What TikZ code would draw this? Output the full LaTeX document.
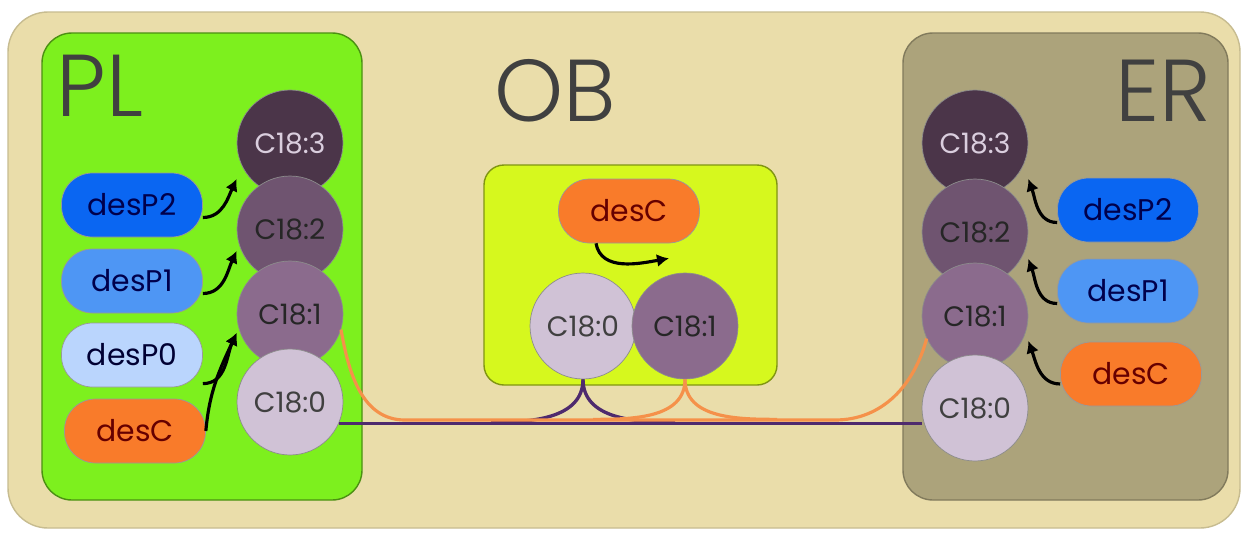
\documentclass[tikz,border=0pt]{standalone}
\usepackage{fontspec}
\setmainfont{Poppins}
\newfontfamily\titlefont{Poppins Light}
\usetikzlibrary{arrows.meta,calc}

\definecolor{bgbeige}{HTML}{EADDAA}
\definecolor{plgreen}{HTML}{7DF01E}
\definecolor{ergrey}{HTML}{ACA37B}
\definecolor{obyellow}{HTML}{D6F81E}
\definecolor{cthree}{HTML}{4B3549}
\definecolor{ctwo}{HTML}{6F5470}
\definecolor{cone}{HTML}{8B6B8D}
\definecolor{czero}{HTML}{D0C2D6}
\definecolor{ptwo}{HTML}{0A66F2}
\definecolor{pone}{HTML}{4E96F4}
\definecolor{pzero}{HTML}{BAD5FD}
\definecolor{pdesc}{HTML}{F97B2A}
\definecolor{lineorange}{HTML}{F5914A}
\definecolor{linepurple}{HTML}{4E2A6E}

\begin{document}
\begin{tikzpicture}[
  x=0.02cm, y=-0.02cm,
  cnode/.style={draw=black!45,circle,minimum size=2.12cm,inner sep=0pt,
    font=\fontsize{16}{16}\selectfont,line width=0.4pt},
  czero/.style={cnode,fill=czero,text=black!75},
  cone/.style={cnode,fill=cone,text=black!85},
  ctwo/.style={cnode,fill=ctwo,text=black!85},
  cthree/.style={cnode,fill=cthree,text=czero!80!white},
  pnode/.style={draw=black!40,rectangle,rounded corners=0.62cm,
    minimum width=2.82cm,minimum height=1.28cm,inner sep=0pt,
    font=\fontsize{17}{17}\selectfont,line width=0.4pt},
  ptwo/.style={pnode,fill=ptwo,text=blue!30!black},
  pone/.style={pnode,fill=pone,text=blue!30!black},
  pzero/.style={pnode,fill=pzero,text=blue!20!black},
  pdesc/.style={pnode,fill=pdesc,text=red!40!black},
  panel/.style={rounded corners=0.6cm,line width=0.8pt},
  title/.style={font=\titlefont\fontsize{50}{50}\selectfont,text=black!75},
  feed/.style={draw=black,line width=1.8pt,-{Latex[length=2.4mm,width=2.6mm]}},
  oline/.style={draw=lineorange,line width=1.8pt},
  uline/.style={draw=linepurple,line width=1.9pt}
]
  \useasboundingbox (0,0) rectangle (1248,535);

  % panels
  \path[fill=white] (0,0) rectangle (1248,535);
  \draw[panel,rounded corners=0.8cm,fill=bgbeige,draw=bgbeige!85!black] (8,12) rectangle (1240,528);
  \draw[panel,fill=plgreen,draw=plgreen!60!black] (42,33) rectangle (362,500);
  \draw[panel,fill=ergrey,draw=ergrey!75!black] (903,33) rectangle (1228,500);
  \draw[panel,rounded corners=0.4cm,fill=obyellow,draw=obyellow!60!black] (484,165) rectangle (777,385);

  % titles
  \node[title] (tpl) at (100,86) {PL};
  \node[title] (tob) at (555,91) {OB};
  \node[title] (ter) at (1163,91) {ER};

  % PL lipids
  \node[cthree] (c3) at (290,143) {C18:3};
  \node[ctwo]   (c2) at (290,229) {C18:2};
  \node[cone]   (c1) at (290,314) {C18:1};
  \node[czero]  (c0) at (290,402) {C18:0};

  % PL enzymes
  \node[ptwo]  (p2) at (132,205) {desP2};
  \node[pone]  (p1) at (132,281) {desP1};
  \node[pzero] (p0) at (132,355) {desP0};
  \node[pdesc] (pc) at (135,431) {desC};

  % OB
  \node[pdesc] (obc) at (629,211) {desC};
  \node[czero] (ob0) at (583,326) {C18:0};
  \node[cone]  (ob1) at (685,326) {C18:1};

  % ER lipids
  \node[cthree] (ec3) at (975,143) {C18:3};
  \node[ctwo]   (ec2) at (975,232) {C18:2};
  \node[cone]   (ec1) at (975,316) {C18:1};
  \node[czero]  (ec0) at (975,408) {C18:0};

  % ER enzymes
  \node[ptwo]  (e2) at (1128,210) {desP2};
  \node[pone]  (e1) at (1128,291) {desP1};
  \node[pdesc] (ec) at (1131,374) {desC};

  % desaturation arrows
  \draw[feed] (p2.-10) to[out=0,in=-115] ([yshift=-0.72cm]c3.west);
  \draw[feed] (p1.-10) to[out=0,in=-115] ([yshift=-0.44cm]c2.west);
  \draw[feed] (p0.-22) to[out=0,in=-115] ([yshift=-0.38cm]c1.west);
  \draw[feed] (pc.east) to[out=85,in=-115] ([yshift=-0.38cm]c1.west);
  \draw[feed] ([xshift=-0.66cm]obc.south) to[out=-80,in=190] ([xshift=0.8cm,yshift=-0.3cm]obc.south);
  \draw[feed] (e2.190) to[out=180,in=-70] ([yshift=-0.72cm]ec3.east);
  \draw[feed] (e1.190) to[out=180,in=-70] ([yshift=-0.54cm]ec2.east);
  \draw[feed] (ec.188) to[out=180,in=-70] ([yshift=-0.5cm]ec1.east);

  % transport lines
  \coordinate (oL) at (405,420);
  \coordinate (oR) at (835,420);
  \draw[uline] (c0.-24) -- (c0.-24 -| ec0.west);
  \draw[uline] (ob0.south) to[out=-90,in=0] ($(ob0.south)+(-92,43)$);
  \draw[uline] (ob0.south) to[out=-90,in=180] ($(ob0.south)+(92,43)$);
  \draw[oline] (c1.-17) to[out=-80,in=180] (oL) -- (oR) to[out=0,in=-105] (ec1.205);
  \draw[oline] (ob1.south) to[out=-90,in=0] ($(ob1.south)+(-92,40)$);
  \draw[oline] (ob1.south) to[out=-90,in=180] ($(ob1.south)+(92,40)$);

\end{tikzpicture}
\end{document}
